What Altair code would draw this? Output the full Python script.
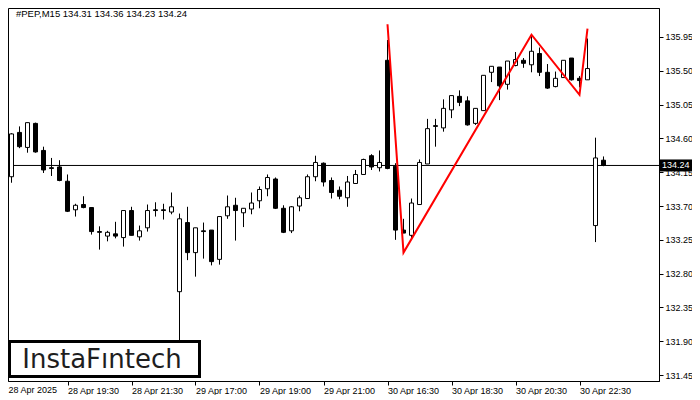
import json
import altair as alt
import pandas as pd

# ---- data (PEP, M15) ----
opens = [134.03, 134.09, 134.68, 134.48, 134.80, 134.44, 134.21, 134.22, 134.03, 133.65,
         133.72, 133.68, 133.36, 133.30, 133.33, 133.28, 133.64, 133.29, 133.41, 133.65,
         133.65, 133.62, 132.56, 133.48, 133.08, 133.37, 133.38, 132.99, 133.57, 133.71,
         133.61, 133.66, 133.77, 133.93, 134.06, 133.67, 133.37, 133.70, 133.80, 134.09,
         134.27, 134.04, 133.91, 133.81, 134.00, 134.12, 134.37, 134.21, 135.64, 134.23,
         133.38, 133.31, 133.72, 134.26, 134.77, 134.74, 134.98, 135.16, 135.10, 134.80,
         134.97, 135.48, 135.55, 135.32, 135.57, 135.64, 135.58, 135.73, 135.48, 135.29,
         135.41, 135.67, 135.40, 135.38, 133.44, 134.31]
highs = [134.10, 134.67, 134.76, 134.81, 134.81, 134.49, 134.34, 134.31, 134.12, 133.73,
         133.83, 133.68, 133.43, 133.37, 133.49, 133.64, 133.69, 133.44, 133.72, 133.75,
         133.73, 133.88, 133.60, 133.69, 133.41, 133.48, 133.38, 133.56, 133.84, 133.81,
         133.67, 133.88, 133.96, 134.12, 134.08, 133.71, 133.70, 133.84, 134.12, 134.37,
         134.28, 134.08, 133.96, 134.10, 134.18, 134.33, 134.39, 134.44, 135.91, 134.27,
         133.53, 133.80, 134.32, 134.86, 134.86, 135.12, 135.17, 135.24, 135.16, 135.00,
         135.44, 135.56, 135.55, 135.63, 135.75, 135.67, 135.97, 135.81, 135.59, 135.49,
         135.64, 135.67, 135.43, 135.93, 134.61, 134.36]
lows = [133.86, 134.01, 134.47, 134.41, 134.41, 134.14, 134.10, 134.03, 133.62, 133.56,
        133.67, 133.32, 133.12, 133.23, 133.27, 133.16, 133.31, 133.24, 133.36, 133.56,
        133.52, 133.59, 131.85, 132.98, 132.76, 133.00, 132.91, 132.92, 133.53, 133.24,
        133.42, 133.59, 133.67, 133.83, 133.66, 133.34, 133.34, 133.63, 133.80, 134.03,
        133.96, 133.80, 133.79, 133.69, 134.00, 134.12, 134.18, 134.16, 134.19, 133.25,
        133.34, 133.25, 133.72, 134.26, 134.49, 134.69, 134.87, 135.03, 134.77, 134.78,
        134.97, 135.35, 135.11, 135.25, 135.56, 135.54, 135.48, 135.43, 135.26, 135.28,
        135.41, 135.37, 135.28, 135.38, 133.22, 134.23]
closes = [134.05, 134.66, 134.49, 134.81, 134.42, 134.18, 134.20, 134.04, 133.63, 133.71,
          133.68, 133.36, 133.35, 133.35, 133.30, 133.64, 133.31, 133.37, 133.64, 133.64,
          133.64, 133.69, 133.53, 133.08, 133.41, 133.36, 132.96, 133.56, 133.69, 133.64,
          133.67, 133.74, 133.92, 134.08, 133.67, 133.35, 133.69, 133.81, 134.09, 134.28,
          134.02, 133.88, 133.83, 134.02, 134.12, 134.32, 134.22, 134.28, 134.20, 133.38,
          133.34, 133.74, 134.28, 134.73, 134.76, 135.00, 135.17, 135.08, 134.78, 135.00,
          135.44, 135.56, 135.30, 135.63, 135.65, 135.60, 135.76, 135.48, 135.27, 135.40,
          135.64, 135.38, 135.37, 135.53, 134.34, 134.24]

tick_index = [0, 8, 16, 24, 32, 40, 48, 56, 64, 72]
tick_labels = ["28 Apr 2025", "28 Apr 19:30", "28 Apr 21:30", "29 Apr 17:00", "29 Apr 19:00",
               "29 Apr 21:00", "30 Apr 16:30", "30 Apr 18:30", "30 Apr 20:30", "30 Apr 22:30"]
y_ticks = [131.45, 131.90, 132.35, 132.80, 133.25, 133.70, 134.15, 134.60, 135.05, 135.50, 135.95]

pattern_index = [48, 50, 66, 72, 73]
pattern_price = [136.12, 133.08, 135.98, 135.18, 136.06]

last_price = 134.24
header = "#PEP,M15  134.31 134.36 134.23 134.24"
brand = "InstaF\u0131ntech"

# ---- layout ----
W, H = 651, 373
FONT = "Liberation Sans"

candles = pd.DataFrame({"i": list(range(len(opens))), "open": opens, "high": highs,
                        "low": lows, "close": closes})
pattern = pd.DataFrame({"i": pattern_index, "p": pattern_price})
price_df = pd.DataFrame({"p": [last_price], "t": [f"{last_price:.2f}"]})

xs = alt.Scale(domain=[0.5625, 81.9375], nice=False, zero=False, padding=0)
ys = alt.Scale(domain=[131.371, 136.336], nice=False, zero=False, padding=0)

label_expr = json.dumps(tick_labels) + "[round(datum.value / 8)]"
xaxis = alt.Axis(values=tick_index, labelExpr=label_expr, orient="bottom", grid=False,
                 tickSize=4, labelPadding=1, labelAlign="left", labelBaseline="top",
                 labelFont=FONT, labelFontSize=9, labelColor="black", tickColor="black",
                 domainColor="black", labelOverlap=False, title=None)
yaxis = alt.Axis(values=y_ticks, format=".2f", orient="right", grid=False, tickSize=4,
                 labelPadding=2, labelFont=FONT, labelFontSize=9, labelColor="black",
                 tickColor="black", domainColor="black", labelOverlap=False,
                 labelBaseline="middle", title=None)


def X(f):
    return alt.X(f, type="quantitative", scale=xs, axis=xaxis, title=None)


def Y(f):
    return alt.Y(f, type="quantitative", scale=ys, axis=yaxis, title=None)


hline = alt.Chart(price_df).mark_rule(color="black", strokeWidth=1).encode(y=Y("p"))

wicks = alt.Chart(candles).mark_rule(color="black", strokeWidth=1).encode(
    x=X("i"), y=Y("low"), y2="high")

bodies = alt.Chart(candles).mark_bar(size=4, stroke="black", strokeWidth=1).encode(
    x=X("i"), y=Y("open"), y2="close",
    fill=alt.condition(alt.datum.close > alt.datum.open, alt.value("white"), alt.value("black")))

red = alt.Chart(pattern).mark_line(color="#ff0000", strokeWidth=2).encode(x=X("i"), y=Y("p"))

logo_df = pd.DataFrame({"t": [brand]})
logo_box = alt.Chart(logo_df).mark_rect(fill="white", stroke="black", strokeWidth=3).encode(
    x=alt.value(1.5), x2=alt.value(191.5), y=alt.value(333.5), y2=alt.value(368.5))
logo_text = alt.Chart(logo_df).mark_text(font="DejaVu Sans", fontSize=26, color="#1e1e1e",
                                         align="center", baseline="middle").encode(
    x=alt.value(94), y=alt.value(351.5), text="t:N")

head = alt.Chart(pd.DataFrame({"t": [header]})).mark_text(
    font=FONT, fontSize=9.5, color="black", align="left", baseline="middle").encode(
    x=alt.value(8), y=alt.value(5.5), text="t:N")

# first time label: its tick sits just left of the visible frame
first_label = alt.Chart(pd.DataFrame({"t": [tick_labels[0]]})).mark_text(
    font=FONT, fontSize=9, color="black", align="left", baseline="top").encode(
    x=alt.value(0.5), y=alt.value(H + 5), text="t:N")

box = alt.Chart(price_df).mark_rect(color="black", yOffset=-6, y2Offset=6).encode(
    x=alt.value(W + 1), x2=alt.value(W + 33), y=Y("p"), y2="p")
box_text = alt.Chart(price_df).mark_text(font=FONT, fontSize=9, color="white",
                                         align="left", baseline="middle").encode(
    x=alt.value(W + 3), y=Y("p"), text="t:N")

chart = alt.layer(hline, wicks, bodies, red, logo_box, logo_text, head, first_label,
                  box, box_text).properties(
    width=W, height=H, background="white",
    autosize=alt.AutoSizeParams(type="none"),
    padding={"left": 0, "top": 0, "right": 33, "bottom": 14},
).configure_view(stroke="black", strokeWidth=1)

chart.save("out.html", embed_options={"renderer": "svg", "actions": False})
